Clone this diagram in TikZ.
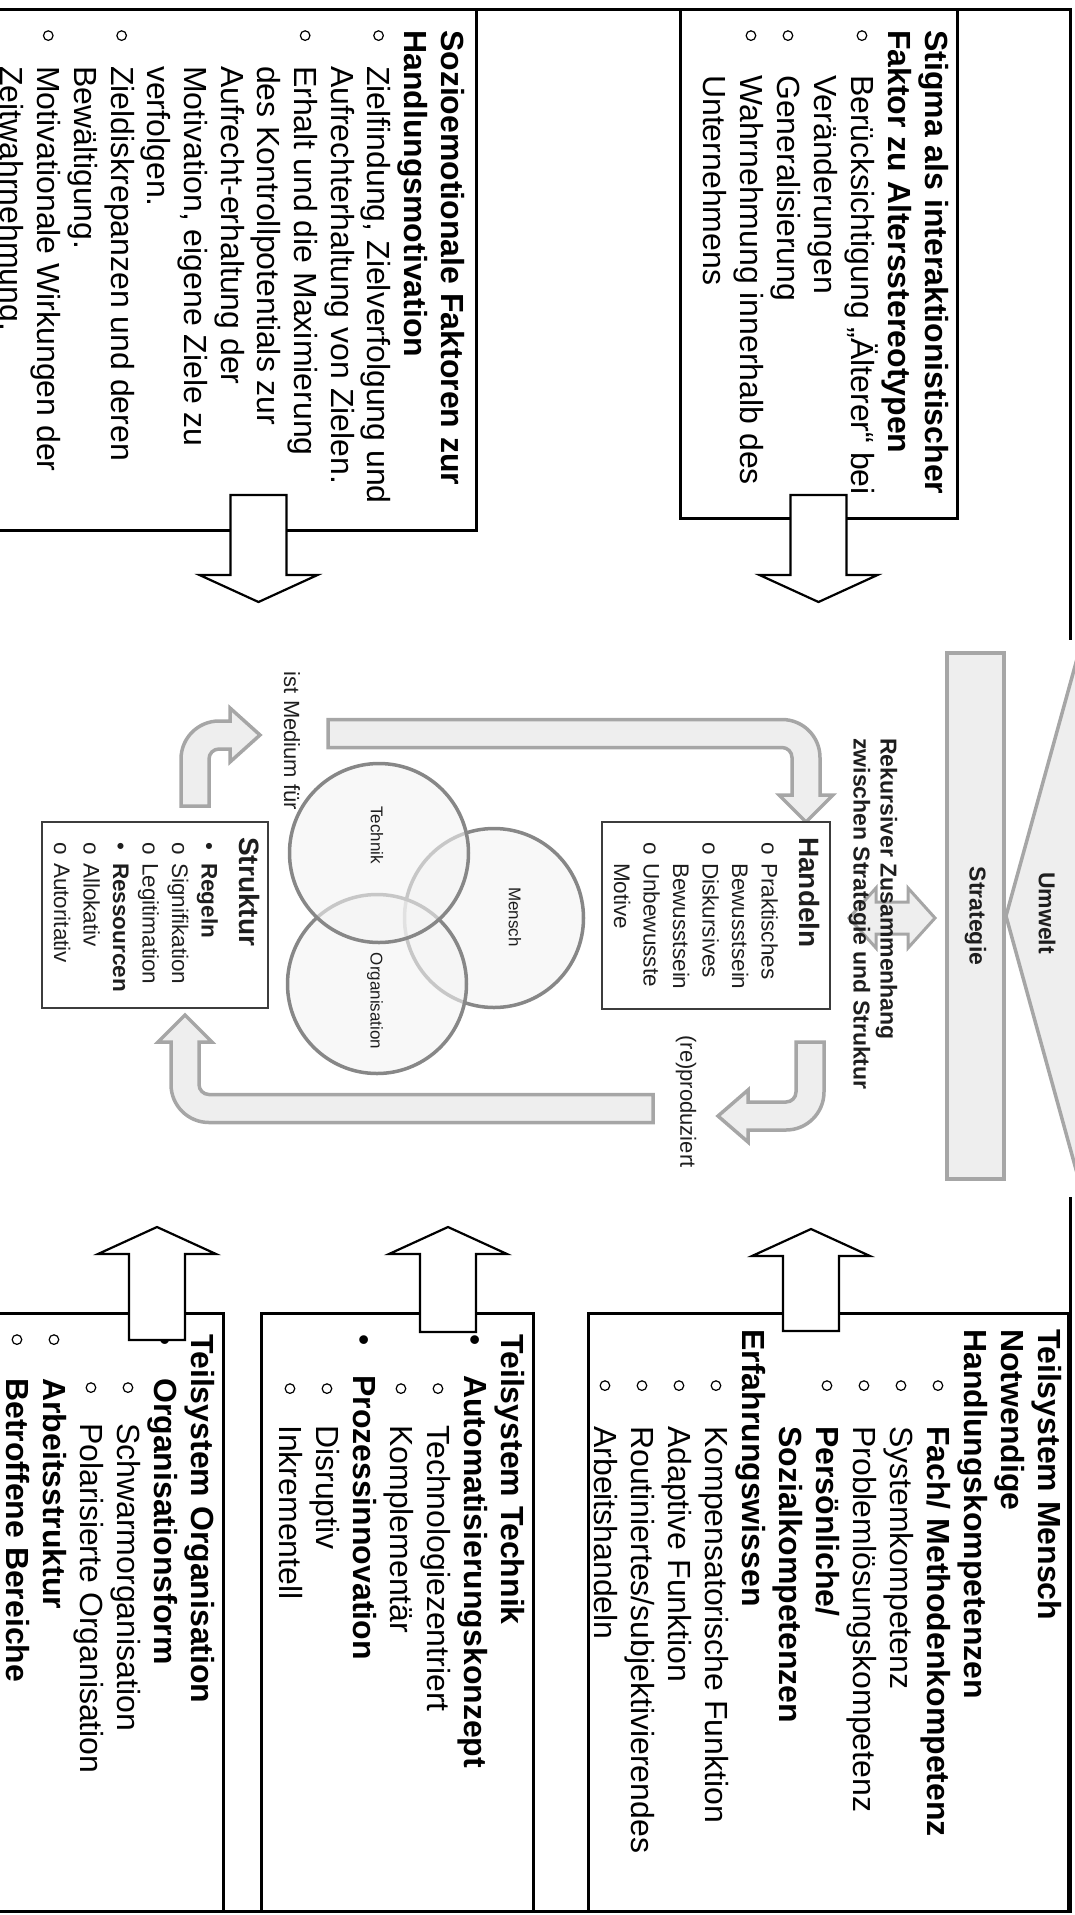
\documentclass[tikz,border=0pt]{standalone}
\usepackage{fontspec}
\setmainfont{Liberation Sans}

\definecolor{arrowline}{HTML}{A6A6A6}
\definecolor{arrowfill}{HTML}{EEEEEE}
\definecolor{vennline}{HTML}{878787}
\definecolor{vennfill}{HTML}{F3F3F3}
\definecolor{cboxline}{HTML}{3C3C3C}
\definecolor{ctextcol}{HTML}{1E1E1E}

\newcommand{\topstrut}{\rule{0pt}{0.95em}}
\newcommand{\ocirc}{\tikz[baseline=-0.33em]\draw[line width=1.2pt] (0,0) circle[radius=4.8pt];}
\newcommand{\obul}[2]{\hspace*{#1pt}\makebox[#2pt][l]{\ocirc}}
\newcommand{\fbul}[2]{\hspace*{#1pt}\makebox[#2pt][l]{\textbullet}}
\newcommand{\cont}[1]{\hspace*{#1pt}}

\tikzset{
  frame/.style={line width=3pt},
  bigbox/.style={draw, line width=3pt, fill=white, inner sep=0pt},
  boxtext/.style={anchor=north west, align=left, inner sep=0pt, font=\fontsize{32}{37}\selectfont},
  blockline/.style={draw, fill=white, line width=2.2pt},
  pics/blockarrow/.style={code={\draw[blockline] (0,0) -- (-27,59) -- (-27,28) -- (-#1,28) -- (-#1,-28) -- (-27,-28) -- (-27,-59) -- cycle;}},
  grayshape/.style={draw=arrowline, fill=arrowfill, line width=3.5pt},
  venn/.style={circle, draw=vennline, line width=3.5pt, fill=vennfill, fill opacity=0.6, minimum size=179pt, inner sep=0pt},
  vennlabel/.style={inner sep=0pt, text=ctextcol, font=\fontsize{17}{20}\selectfont},
  cbox/.style={draw=cboxline, line width=2pt, fill=white, inner sep=0pt},
  ctitle/.style={anchor=north west, inner sep=0pt, text=ctextcol, font=\fontsize{28}{30}\selectfont\bfseries},
  citems/.style={anchor=north west, align=left, inner sep=0pt, text=ctextcol, font=\fontsize{22.5}{29.5}\selectfont},
  clabel/.style={inner sep=0pt, text=ctextcol, font=\fontsize{22}{26}\selectfont},
}

\begin{document}
\begin{tikzpicture}[x=1pt, y=1pt, rotate=-90, transform shape]
  \useasboundingbox (0,0) rectangle (1915,1075);
  \clip (0,0) rectangle (1915,1075);

  % outer frame
  \draw[frame] (9,-20) -- (9,1070) -- (640,1070);
  \draw[frame] (1197,1070) -- (1911,1070) -- (1911,-20);

  % text boxes
  \node[bigbox, minimum width=509pt, minimum height=277pt] (stigma) at (263.5,818.5) {};
  \node[bigbox, minimum width=521pt, minimum height=536pt] (sozio) at (269.5,208) {};
  \node[bigbox, minimum width=598pt, minimum height=480pt] (mensch) at (1612,828) {};
  \node[bigbox, minimum width=598pt, minimum height=272pt] (technik) at (1612,397) {};
  \node[bigbox, minimum width=598pt, minimum height=283pt] (organisation) at (1612,81.5) {};

  \node[boxtext] (stigmaT) at (30,956) {\topstrut\textbf{Stigma als interaktionistischer}\\
    \textbf{Faktor zu Altersstereotypen}\\
    \obul{0}{45}Berücksichtigung „Älterer“ bei\\
    \cont{45}Veränderungen\\
    \obul{0}{45}Generalisierung\\
    \obul{0}{45}Wahrnehmung innerhalb des\\
    \cont{45}Unternehmens};
  \node[boxtext, font=\fontsize{32}{36.7}\selectfont] (sozioT) at (30,472) {\topstrut\textbf{Sozioemotionale Faktoren zur}\\
    \textbf{Handlungsmotivation}\\
    \obul{0}{36}Zielfindung, Zielverfolgung und\\
    \cont{36}Aufrechterhaltung von Zielen.\\
    \obul{0}{36}Erhalt und die Maximierung\\
    \cont{36}des Kontrollpotentials zur\\
    \cont{36}Aufrecht-erhaltung der\\
    \cont{36}Motivation, eigene Ziele zu\\
    \cont{36}verfolgen.\\
    \obul{0}{36}Zieldiskrepanzen und deren\\
    \cont{36}Bewältigung.\\
    \obul{0}{36}Motivationale Wirkungen der\\
    \cont{36}Zeitwahrnehmung.};
  \node[boxtext] (menschT) at (1329,1069) {\topstrut\textbf{Teilsystem Mensch}\\
    \textbf{Notwendige}\\
    \textbf{Handlungskompetenzen}\\
    \obul{51}{46}\textbf{Fach/ Methodenkompetenz}\\
    \obul{51}{46}Systemkompetenz\\
    \obul{51}{46}Problemlösungskompetenz\\
    \obul{51}{46}\textbf{Persönliche/}\\
    \cont{97}\textbf{Sozialkompetenzen}\\
    \textbf{Erfahrungswissen}\\
    \obul{51}{46}Kompensatorische Funktion\\
    \obul{51}{46}Adaptive Funktion\\
    \obul{51}{46}Routiniertes/subjektivierendes\\
    \obul{51}{46}Arbeitshandeln};
  \node[boxtext] (technikT) at (1334,532) {\topstrut\textbf{Teilsystem Technik}\\
    \fbul{0}{41}\textbf{Automatisierungskonzept}\\
    \obul{49}{42}Technologiezentriert\\
    \obul{49}{42}Komplementär\\
    \fbul{0}{41}\textbf{Prozessinnovation}\\
    \obul{49}{42}Disruptiv\\
    \obul{49}{42}Inkrementell};
  \node[boxtext] (organisationT) at (1334,222) {\topstrut\textbf{Teilsystem Organisation}\\
    \fbul{0}{44}\textbf{Organisationsform}\\
    \obul{48}{41}Schwarmorganisation\\
    \obul{48}{41}Polarisierte Organisation\\
    \obul{0}{44}\textbf{Arbeitsstruktur}\\
    \obul{0}{44}\textbf{Betroffene Bereiche}};

  % block arrows towards the centre
  \pic at (602,818.5) {blockarrow=107};
  \pic at (602,258.5) {blockarrow=107};
  \pic[rotate=180] at (1229,811) {blockarrow=102};
  \pic[rotate=180] at (1227,448) {blockarrow=105};
  \pic[rotate=180] at (1227,157) {blockarrow=113};

  % strategy and environment
  \draw[grayshape] (630,1085) -- (916,1006) -- (1202,1085) -- cycle;
  \node[grayshape, line width=4pt, minimum width=526pt, minimum height=57pt, inner sep=0pt,
    text=ctextcol, font=\fontsize{23}{26}\selectfont\bfseries] (strategie) at (916,975.5) {Strategie};
  \node[inner sep=0pt, text=ctextcol, font=\fontsize{23}{26}\selectfont\bfseries] (umwelt) at (913,1047) {Umwelt};

  % recursive loop
  \draw[grayshape, line width=3pt] (918,849) -- (948,876) -- (934,876) -- (934,908) -- (948,908)
    -- (918,935) -- (888,908) -- (902,908) -- (902,876) -- (888,876) -- cycle;
  \draw[grayshape] (719.5,328) -- (719.5,782) arc[start angle=180, end angle=90, radius=38]
    -- (795,820) -- (795,833) -- (822,806) -- (795,779) -- (795,792) -- (757.5,792)
    arc[start angle=90, end angle=180, radius=10] -- (747.5,328) -- cycle;
  \draw[grayshape] (1042,824) -- (1092,824) arc[start angle=90, end angle=0, radius=38]
    -- (1130,748) -- (1142,748) -- (1116,718) -- (1090,748) -- (1102,748) -- (1102,786)
    arc[start angle=0, end angle=90, radius=10] -- (1042,796) -- cycle;
  \draw[grayshape] (1122.5,653) -- (1122.5,209) arc[start angle=0, end angle=-90, radius=38]
    -- (1042,171) -- (1042,158) -- (1015,185) -- (1042,212) -- (1042,199) -- (1084.5,199)
    arc[start angle=-90, end angle=0, radius=10] -- (1094.5,653) -- cycle;
  \draw[grayshape] (806,181) -- (759,181) arc[start angle=270, end angle=180, radius=38]
    -- (721,230) -- (708,230) -- (735,260) -- (762,230) -- (749,230) -- (749,219)
    arc[start angle=180, end angle=270, radius=10] -- (806,209) -- cycle;
  \node[clabel] (medium) at (741,292) {ist Medium für};
  \node[clabel] (reprod) at (1101.5,686) {(re)produziert};

  % Mensch, Technik, Organisation
  \node[venn] (vmensch) at (918,494) {};
  \node[venn] (vorganisation) at (984,377) {};
  \node[venn] (vtechnik) at (853,379) {};
  \node[vennlabel] (lmensch) at (917,515) {Mensch};
  \node[vennlabel] (lorganisation) at (1001,375) {Organisation};
  \node[vennlabel] (ltechnik) at (835,377) {Technik};

  % Handeln and Struktur
  \node[cbox, minimum width=187pt, minimum height=228pt] (handeln) at (915.5,716) {};
  \node[cbox, minimum width=186pt, minimum height=226pt] (struktur) at (915,155) {};
  \node[ctitle] (handelnT) at (837,826.5) {\topstrut Handeln};
  \node[citems] (handelnI) at (842,783.3) {\topstrut\makebox[21pt][l]{o}Praktisches\\
    \cont{21}Bewusstsein\\
    \makebox[21pt][l]{o}Diskursives\\
    \cont{21}Bewusstsein\\
    \makebox[21pt][l]{o}Unbewusste\\
    \cont{21}Motive};
  \node[ctitle] (strukturT) at (837,266.5) {\topstrut Struktur};
  \node[citems] (strukturI) at (842,223.3) {\topstrut\makebox[21pt][l]{\textbullet}\textbf{Regeln}\\
    \makebox[21pt][l]{o}Signifikation\\
    \makebox[21pt][l]{o}Legitimation\\
    \makebox[21pt][l]{\textbullet}\textbf{Ressourcen}\\
    \makebox[21pt][l]{o}Allokativ\\
    \makebox[21pt][l]{o}Autoritativ};

  \node[anchor=north west, align=left, inner sep=0pt, text=ctextcol,
    font=\fontsize{23}{27}\selectfont\bfseries] (rekursiv) at (738,902.6)
    {\topstrut Rekursiver Zusammenhang\\zwischen Strategie und Struktur};
\end{tikzpicture}
\end{document}
